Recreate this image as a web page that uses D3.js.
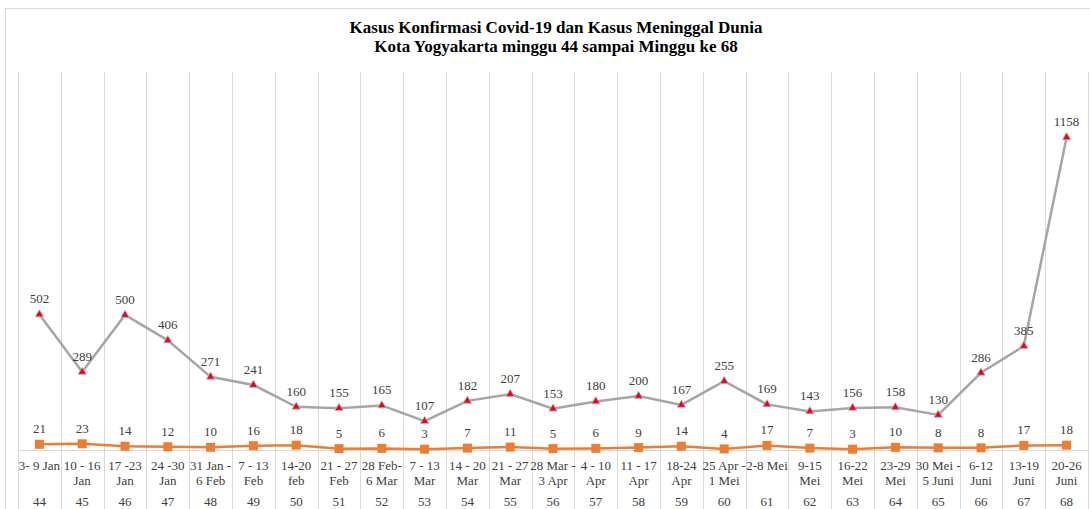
<!DOCTYPE html>
<html>
<head>
<meta charset="utf-8">
<script src="https://cdn.jsdelivr.net/npm/d3@7"></script>
<style>
  body { margin: 0; background: #fff; }
  svg { display: block; font-family: "Liberation Serif", serif; }
  .grid line { stroke: #d9d9d9; stroke-width: 1; }
  .lbl { fill: #404040; font-size: 13px; }
</style>
</head>
<body>
<div class="container"></div>
<script>
/* weeks and tick labels ("|" marks a line break) */
const weeks = [44, 45, 46, 47, 48, 49, 50, 51, 52, 53, 54, 55, 56, 57, 58, 59, 60, 61, 62, 63, 64, 65, 66, 67, 68];
const dateLabels = ["3- 9 Jan", "10 - 16|Jan", "17 -23|Jan", "24 -30|Jan", "31 Jan -|6 Feb", "7 - 13|Feb",
    "14-20|feb", "21 - 27|Feb", "28 Feb-|6 Mar", "7 - 13|Mar", "14 - 20|Mar", "21 - 27|Mar",
    "28 Mar -|3 Apr", "4 - 10|Apr", "11 - 17|Apr", "18-24|Apr", "25 Apr -|1 Mei", "2-8 Mei",
    "9-15|Mei", "16-22|Mei", "23-29|Mei", "30 Mei -|5 Juni", "6-12|Juni", "13-19|Juni", "20-26|Juni"];

/* series */
const konfirmasi = [502, 289, 500, 406, 271, 241, 160, 155, 165, 107, 182, 207, 153, 180, 200, 167, 255, 169, 143, 156, 158, 130, 286, 385, 1158];
const meninggal = [21, 23, 14, 12, 10, 16, 18, 5, 6, 3, 7, 11, 5, 6, 9, 14, 4, 17, 7, 3, 10, 8, 8, 17, 18];

const titleLines = ["Kasus Konfirmasi Covid-19 dan Kasus Meninggal Dunia", "Kota Yogyakarta minggu 44 sampai Minggu ke 68"];

const w = 1090;
const h = 509;

const svg = d3.select(".container")
              .append("svg")
              .attr("width", w)
              .attr("height", h);

/* chart frame (cut off at right and bottom like the picture) */
svg.append("rect")
   .attr("x", 5.5).attr("y", 8.5)
   .attr("width", w + 10).attr("height", h + 10)
   .attr("fill", "none")
   .attr("stroke", "#d9d9d9");

/* scales */
const xScale = d3.scaleBand()
                 .domain(weeks)
                 .range([18, 1088]);
const yScale = d3.scaleLinear()
                 .domain([0, 1400])
                 .range([450, 72]);

/* vertical gridlines between categories, running down through the label area */
const bounds = weeks.map(d => xScale(d)).concat([xScale.range()[1]]);
svg.append("g").attr("class", "grid")
   .selectAll("line")
   .data(bounds)
   .enter()
   .append("line")
   .attr("x1", d => Math.round(d) + 0.5)
   .attr("x2", d => Math.round(d) + 0.5)
   .attr("y1", 72)
   .attr("y2", h);

/* x axis line */
svg.append("line")
   .attr("x1", 18).attr("x2", 1088)
   .attr("y1", yScale(0) + 0.5).attr("y2", yScale(0) + 0.5)
   .attr("stroke", "#d9d9d9");

const cx = d => xScale(d) + xScale.bandwidth() / 2;

/* category labels */
const tick = svg.append("g").selectAll("g")
   .data(weeks)
   .enter()
   .append("g");
tick.each(function (d, i) {
    const parts = dateLabels[i].split("|");
    parts.forEach((p, j) => {
        d3.select(this).append("text")
          .attr("class", "lbl")
          .attr("x", cx(d))
          .attr("y", 470 + j * 14.5)
          .attr("text-anchor", "middle")
          .text(p);
    });
    d3.select(this).append("text")
      .attr("class", "lbl")
      .attr("x", cx(d))
      .attr("y", 506)
      .attr("text-anchor", "middle")
      .text(d);
});

/* lines */
const line = d3.line()
               .x((d, i) => cx(weeks[i]))
               .y(d => yScale(d));

svg.append("path")
   .datum(konfirmasi)
   .attr("d", line)
   .attr("fill", "none")
   .attr("stroke", "#a5a5a5")
   .attr("stroke-width", 2.5);

svg.append("path")
   .datum(meninggal)
   .attr("d", line)
   .attr("fill", "none")
   .attr("stroke", "#ed7d31")
   .attr("stroke-width", 2.5);

/* markers */
const tri = d3.symbol().type(d3.symbolTriangle).size(30);
svg.append("g").selectAll("path")
   .data(konfirmasi)
   .enter()
   .append("path")
   .attr("d", tri)
   .attr("transform", (d, i) => "translate(" + cx(weeks[i]) + "," + yScale(d) + ")")
   .attr("fill", "#ff0000")
   .attr("stroke", "#9dc3e6")
   .attr("stroke-width", 0.8);

svg.append("g").selectAll("rect")
   .data(meninggal)
   .enter()
   .append("rect")
   .attr("x", (d, i) => cx(weeks[i]) - 4.5)
   .attr("y", d => yScale(d) - 4.5)
   .attr("width", 9)
   .attr("height", 9)
   .attr("fill", "#ed7d31");

/* data labels */
svg.append("g").selectAll("text")
   .data(konfirmasi)
   .enter()
   .append("text")
   .attr("class", "lbl")
   .attr("x", (d, i) => cx(weeks[i]))
   .attr("y", d => yScale(d) - 11)
   .attr("text-anchor", "middle")
   .text(d => d);

svg.append("g").selectAll("text")
   .data(meninggal)
   .enter()
   .append("text")
   .attr("class", "lbl")
   .attr("x", (d, i) => cx(weeks[i]))
   .attr("y", d => yScale(d) - 11)
   .attr("text-anchor", "middle")
   .text(d => d);

/* title */
svg.append("g").selectAll("text")
   .data(titleLines)
   .enter()
   .append("text")
   .attr("x", 556)
   .attr("y", (d, i) => 33 + i * 19)
   .attr("text-anchor", "middle")
   .attr("font-weight", "bold")
   .attr("font-size", "17px")
   .attr("fill", "#000")
   .text(d => d);
</script>
</body>
</html>
